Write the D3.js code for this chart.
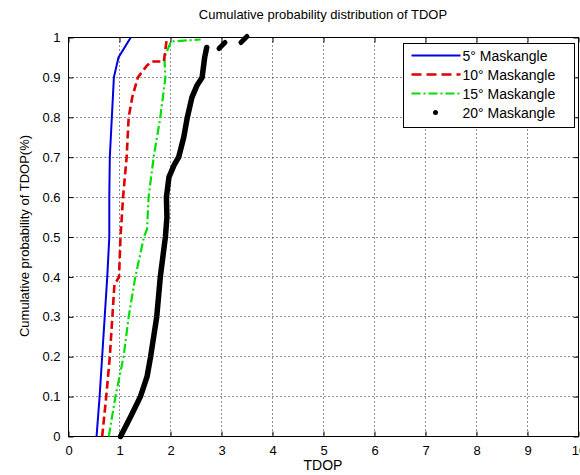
<!DOCTYPE html>
<html>
<head>
<meta charset="utf-8">
<script src="https://cdn.jsdelivr.net/npm/d3@7"></script>
<style>
  body { margin: 0; background: #fff; }
  text { font-family: "Liberation Sans", Arial, sans-serif; fill: #000; }
</style>
</head>
<body>
<svg width="580" height="475"></svg>
<script>
const xTicks = [0, 1, 2, 3, 4, 5, 6, 7, 8, 9, 10];
const yTicks = [0, 0.1, 0.2, 0.3, 0.4, 0.5, 0.6, 0.7, 0.8, 0.9, 1];

// [TDOP, cumulative probability]
const mask5 = [[0.55, 0], [0.61, 0.1], [0.66, 0.2], [0.71, 0.3], [0.76, 0.4], [0.8, 0.5],
  [0.8, 0.6], [0.81, 0.7], [0.85, 0.8], [0.89, 0.9], [0.98, 0.95], [1.22, 1]];
const mask10 = [[0.66, 0], [0.74, 0.1], [0.81, 0.2], [0.86, 0.3], [0.9, 0.38], [0.99, 0.4],
  [1.02, 0.5], [1.07, 0.6], [1.14, 0.7], [1.18, 0.8], [1.25, 0.85], [1.36, 0.9],
  [1.54, 0.93], [1.64, 0.94], [1.87, 0.94], [1.93, 1]];
const mask15 = [[0.79, 0], [0.92, 0.1], [1.08, 0.2], [1.18, 0.3], [1.31, 0.4], [1.48, 0.5],
  [1.54, 0.52], [1.57, 0.6], [1.67, 0.7], [1.8, 0.8], [1.9, 0.9], [1.88, 0.95],
  [2.01, 0.99], [2.59, 0.995]];
const mask20 = [[1.02, 0], [1.22, 0.05], [1.41, 0.1], [1.54, 0.15], [1.61, 0.2], [1.73, 0.3],
  [1.8, 0.4], [1.9, 0.5], [1.93, 0.55], [1.92, 0.6], [1.97, 0.65], [2.07, 0.68],
  [2.16, 0.7], [2.26, 0.75], [2.33, 0.8], [2.42, 0.85], [2.52, 0.88], [2.62, 0.9],
  [2.67, 0.95], [2.71, 0.975], [3.01, 0.98], [3.44, 0.995]];

const seriesNames = ["5° Maskangle", "10° Maskangle", "15° Maskangle", "20° Maskangle"];

const margin = { left: 68, right: 2, top: 37, bottom: 39 };
const width = 580 - margin.left - margin.right;
const height = 475 - margin.top - margin.bottom;

const svg = d3.select("svg");
const g = svg.append("g").attr("transform", `translate(${margin.left + 0.5}, ${margin.top + 0.5})`);

const x = d3.scaleLinear().domain([0, 10]).range([0, width]);
const y = d3.scaleLinear().domain([0, 1]).range([height, 0]);

// dotted grid
g.append("g").selectAll("line").data(xTicks.slice(1, -1)).join("line")
  .attr("x1", d => Math.round(x(d))).attr("x2", d => Math.round(x(d)))
  .attr("y1", 0).attr("y2", height)
  .attr("stroke", "#222").attr("stroke-width", 1).attr("stroke-dasharray", "1,3");
g.append("g").selectAll("line").data(yTicks.slice(1, -1)).join("line")
  .attr("y1", d => Math.round(y(d))).attr("y2", d => Math.round(y(d)))
  .attr("x1", 0).attr("x2", width)
  .attr("stroke", "#222").attr("stroke-width", 1).attr("stroke-dasharray", "1,3");

// axes with inward ticks
const fmtY = d => (d === 0 || d === 1) ? String(d) : d.toFixed(1);
g.append("g").attr("transform", `translate(0, ${height})`)
  .call(d3.axisBottom(x).tickValues(xTicks).tickSize(-5).tickPadding(9));
g.append("g")
  .call(d3.axisLeft(y).tickValues(yTicks).tickFormat(fmtY).tickSize(-5).tickPadding(8));
g.append("g").call(d3.axisTop(x).tickValues(xTicks).tickSize(-5).tickFormat(""));
g.append("g").attr("transform", `translate(${width}, 0)`)
  .call(d3.axisRight(y).tickValues(yTicks).tickSize(-5).tickFormat(""));
g.selectAll(".domain").remove();
g.selectAll(".tick line").attr("stroke", "#000");
g.selectAll(".tick text").attr("font-size", 13).attr("font-family", "Liberation Sans, Arial, sans-serif");

g.append("rect").attr("width", width).attr("height", height)
  .attr("fill", "none").attr("stroke", "#000").attr("stroke-width", 1);

const line = d3.line().x(d => x(d[0])).y(d => y(d[1]));

const plot = g.append("g");
plot.append("path").datum(mask15).attr("d", line).attr("fill", "none")
  .attr("stroke", "#00e000").attr("stroke-width", 2.2).attr("stroke-dasharray", "9,3,2,3");
plot.append("path").datum(mask10).attr("d", line).attr("fill", "none")
  .attr("stroke", "#e00000").attr("stroke-width", 2.6).attr("stroke-dasharray", "8,4");
plot.append("path").datum(mask5).attr("d", line).attr("fill", "none")
  .attr("stroke", "#0000e0").attr("stroke-width", 2);

// 20° drawn as dense dots: connected body + separate tail dots
const body = mask20.filter((d, i) => i === 0 || d[0] - mask20[i - 1][0] < 0.2);
const tail = mask20.filter((d, i) => i > 0 && d[0] - mask20[i - 1][0] >= 0.2);
plot.append("path").datum(body).attr("d", line).attr("fill", "none")
  .attr("stroke", "#000").attr("stroke-width", 5.5)
  .attr("stroke-linecap", "round").attr("stroke-linejoin", "round");
plot.selectAll(".tail").data(tail).join("path").attr("class", "tail")
  .attr("d", d => `M${x(d[0]) - 3},${y(d[1]) + 3}L${x(d[0]) + 3},${y(d[1]) - 3}`)
  .attr("stroke", "#000").attr("stroke-width", 5).attr("stroke-linecap", "round");

// legend
const lg = svg.append("g").attr("transform", "translate(403.5, 43.5)");
lg.append("rect").attr("width", 171).attr("height", 84)
  .attr("fill", "#fff").attr("stroke", "#000").attr("stroke-width", 1);
const styles = [
  { stroke: "#0000e0", dash: null, w: 2 },
  { stroke: "#e00000", dash: "10,5", w: 2.6 },
  { stroke: "#00e000", dash: "9,3,2,3", w: 2.2 },
  null
];
seriesNames.forEach((name, i) => {
  const yy = 12 + i * 19;
  if (styles[i]) {
    lg.append("line").attr("x1", 8).attr("x2", 57).attr("y1", yy).attr("y2", yy)
      .attr("stroke", styles[i].stroke).attr("stroke-width", styles[i].w)
      .attr("stroke-dasharray", styles[i].dash);
  } else {
    lg.append("circle").attr("cx", 32).attr("cy", yy).attr("r", 2.5).attr("fill", "#000");
  }
  lg.append("text").attr("x", 59).attr("y", yy + 5).attr("font-size", 14).text(name);
});

// titles
svg.append("text").attr("x", 323).attr("y", 19).attr("text-anchor", "middle")
  .attr("font-size", 13).text("Cumulative probability distribution of TDOP");
svg.append("text").attr("x", 323).attr("y", 470).attr("text-anchor", "middle")
  .attr("font-size", 14).text("TDOP");
svg.append("text").attr("transform", "translate(29, 236) rotate(-90)")
  .attr("text-anchor", "middle").attr("font-size", 13).text("Cumulative probability of TDOP(%)");
</script>
</body>
</html>
